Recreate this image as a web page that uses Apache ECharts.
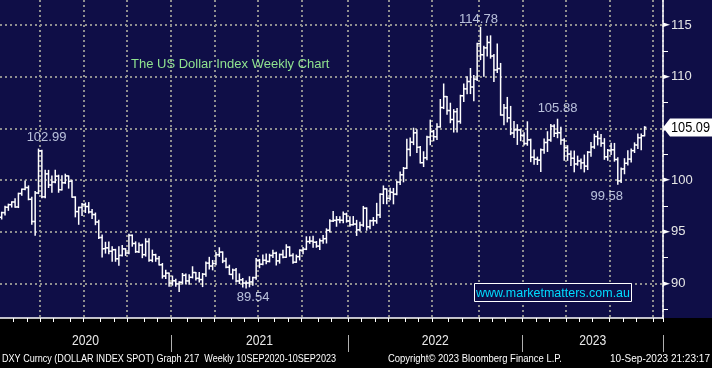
<!DOCTYPE html>
<html><head><meta charset="utf-8">
<script src="https://cdn.jsdelivr.net/npm/echarts@6/dist/echarts.min.js"></script>
<style>html,body{margin:0;padding:0;background:#000;}#c{width:712px;height:368px;}</style>
</head><body><div id="c"></div>
<script>
// ---- data (weekly DXY bars, week ending Friday) ----
const firstWeek = '2020-01-03';
const blankWeeksAfter = 5;
const opens = [
96.39,96.84,97.36,97.61,97.87,97.39,98.69,99.10,99.26,98.13,
95.98,98.74,102.82,98.37,100.59,99.52,99.80,100.37,99.06,99.73,
100.39,99.87,98.34,96.94,97.34,97.62,97.43,96.91,96.65,95.93,
94.43,93.35,93.43,93.10,93.25,92.37,92.70,93.33,92.93,94.64,
93.85,93.06,93.69,92.77,94.04,92.23,92.76,92.39,91.79,90.70,
90.98,90.02,
90.24,89.94,90.10,90.77,90.23,90.58,91.04,90.48,90.36,90.88,
91.95,91.67,91.92,92.77,93.02,92.16,91.56,90.86,91.28,90.22,
90.33,90.02,90.03,90.13,90.55,92.23,91.85,92.23,92.12,92.69,
92.91,92.17,92.78,92.52,93.50,92.69,92.04,92.58,93.20,93.30,
94.04,94.08,93.97,93.60,94.12,94.32,95.13,96.03,96.09,96.15,
96.10,96.70,96.03,
95.67,95.73,95.17,95.64,97.27,95.47,96.06,96.05,96.62,98.62,
99.13,98.23,98.80,98.63,99.79,100.50,101.13,102.96,103.66,104.56,
103.16,101.67,102.14,104.15,104.68,104.19,105.14,107.01,108.07,106.72,
105.85,106.61,105.67,108.15,108.82,109.53,109.00,109.76,113.19,112.12,
112.79,113.31,111.99,110.65,110.78,106.29,106.98,106.01,104.55,104.85,
104.84,104.32,
103.52,103.88,102.20,102.01,101.92,102.92,103.63,103.87,105.21,104.52,
104.58,103.86,103.12,102.51,102.10,101.55,101.84,101.66,101.34,102.69,
103.20,104.21,104.02,103.56,102.24,102.87,102.92,101.98,99.91,101.07,
101.62,102.02,102.84,103.39,104.09,104.28];
const highs = [
96.88,97.45,97.66,97.89,98.19,98.72,99.13,99.91,99.43,98.33,
98.89,102.99,102.87,100.93,100.93,100.38,100.93,100.46,100.40,100.56,
100.39,99.97,98.37,97.37,97.73,97.77,97.81,97.13,96.80,96.10,
94.67,93.97,93.99,93.53,93.29,93.53,93.66,93.35,94.74,94.68,
94.01,93.90,93.79,94.31,94.30,93.21,92.81,92.60,91.92,91.25,
91.00,90.70,
90.39,90.15,90.95,90.90,90.83,91.60,91.05,91.05,90.94,92.07,
92.51,92.21,92.97,93.44,93.04,92.42,91.75,91.37,91.43,90.91,
90.47,90.23,90.63,90.58,92.40,92.31,92.74,92.84,92.81,93.19,
93.00,92.83,93.20,93.73,93.53,92.87,92.73,93.24,93.46,94.50,
94.50,94.56,94.04,94.29,94.63,95.27,96.15,96.94,96.46,96.44,
96.91,96.79,96.44,
96.46,96.09,95.90,97.44,97.30,96.09,96.36,97.74,98.66,99.42,
99.13,99.20,99.18,99.87,100.78,101.21,103.93,104.07,105.01,104.86,
103.23,102.73,104.23,105.79,104.79,105.44,107.79,109.29,108.09,107.43,
106.81,106.93,108.20,109.28,109.99,110.79,110.11,113.24,114.78,112.95,
113.90,113.95,112.14,113.15,111.28,107.30,107.99,107.12,105.66,105.35,
104.86,104.56,
105.63,103.95,102.90,102.21,103.01,103.96,104.67,105.36,105.35,105.88,
105.10,103.99,103.32,102.80,102.80,102.31,102.04,102.41,102.75,103.62,
104.42,104.70,104.40,104.00,102.95,103.55,103.54,102.15,101.15,102.06,
102.84,102.99,103.59,104.44,104.44,105.16];
const lows = [
96.22,96.62,97.06,97.38,97.35,97.33,98.51,99.05,98.08,95.71,
94.65,98.68,98.27,98.27,99.27,98.82,99.74,98.81,99.03,99.67,
99.21,98.32,96.43,95.71,96.55,96.85,96.80,96.28,95.67,94.33,
92.55,92.92,92.85,92.13,92.13,91.75,92.65,92.70,92.85,93.59,
92.99,92.99,92.48,92.63,92.13,92.09,92.13,91.76,90.50,90.47,
89.72,89.82,
89.72,89.21,89.93,89.97,89.91,90.52,90.31,90.13,89.68,90.67,
91.38,91.30,91.79,92.60,92.00,91.50,90.86,90.42,90.13,89.98,
89.65,89.54,89.66,89.80,90.40,91.51,91.80,91.90,92.07,92.49,
91.78,91.95,92.47,92.51,92.62,91.94,92.02,92.26,92.86,93.26,
93.87,93.50,93.49,93.28,93.87,93.90,94.97,95.97,95.52,95.86,
95.85,95.92,95.53,
95.64,94.63,95.05,95.51,95.14,95.28,95.61,95.81,96.36,97.71,
97.70,98.08,97.69,98.56,99.57,99.82,101.11,102.35,103.42,102.67,
101.64,101.30,101.96,103.41,103.79,103.92,105.11,106.91,106.36,105.54,
104.64,104.64,105.49,107.59,108.34,108.36,107.68,109.64,111.65,110.05,
112.01,111.79,109.54,110.40,106.27,105.34,105.62,104.39,104.11,103.44,
103.80,103.39,
103.36,101.77,101.53,101.50,100.82,102.58,102.76,103.75,104.21,104.09,
103.46,101.92,101.90,101.41,100.79,101.43,101.08,100.78,101.01,102.29,
103.06,103.39,103.27,102.00,101.92,102.46,101.82,99.58,99.75,100.60,
101.45,101.74,102.66,103.05,102.93,104.27];
const closes = [
96.84,97.36,97.61,97.87,97.39,98.69,99.10,99.26,98.13,95.98,
98.74,102.82,98.37,100.59,99.52,99.80,100.37,99.06,99.73,100.39,
99.87,98.34,96.94,97.34,97.62,97.43,96.91,96.65,95.93,94.43,
93.35,93.43,93.10,93.25,92.37,92.70,93.33,92.93,94.64,93.85,
93.06,93.69,92.77,94.04,92.23,92.76,92.39,91.79,90.70,90.98,
90.02,90.24,
89.94,90.10,90.77,90.23,90.58,91.04,90.48,90.36,90.88,91.95,
91.67,91.92,92.77,93.02,92.16,91.56,90.86,91.28,90.22,90.33,
90.02,90.03,90.13,90.55,92.23,91.85,92.23,92.12,92.69,92.91,
92.17,92.78,92.52,93.50,92.69,92.04,92.58,93.20,93.30,94.04,
94.08,93.97,93.60,94.12,94.32,95.13,96.03,96.09,96.15,96.10,
96.70,96.03,95.67,
95.73,95.17,95.64,97.27,95.47,96.06,96.05,96.62,98.62,99.13,
98.23,98.80,98.63,99.79,100.50,101.13,102.96,103.66,104.56,103.16,
101.67,102.14,104.15,104.68,104.19,105.14,107.01,108.07,106.72,105.85,
106.61,105.67,108.15,108.82,109.53,109.00,109.76,113.19,112.12,112.79,
113.31,111.99,110.65,110.78,106.29,106.98,106.01,104.55,104.85,104.84,
104.32,103.52,
103.88,102.20,102.01,101.92,102.92,103.63,103.87,105.21,104.52,104.58,
103.86,103.12,102.51,102.10,101.55,101.84,101.66,101.34,102.69,103.20,
104.21,104.02,103.56,102.24,102.87,102.92,101.98,99.91,101.07,101.62,
102.02,102.84,103.39,104.09,104.28,105.09];
const yAxisMin = 86.64, yAxisMax = 117.42;
const yMajorTicks = [90, 95, 100, 105, 110, 115];
const yMinorTicks = [87.5, 92.5, 97.5, 102.5, 107.5, 112.5];
// annotated extremes: week index and which field
const annotWeeks = [11, 73, 143, 166, 184];
const annotField = ['high', 'low', 'high', 'high', 'low'];
const titleText = 'The US Dollar Index Weekly Chart';
const watermarkText = 'www.marketmatters.com.au';
const footerLeft = 'DXY Curncy (DOLLAR INDEX SPOT) Graph 217  Weekly 10SEP2020-10SEP2023';
const footerMid = 'Copyright\u00A9 2023 Bloomberg Finance L.P.';
const footerRight = '10-Sep-2023 21:23:17';

// ---- categories & calendar breaks ----
const DAY = 86400000;
const t0 = Date.parse(firstWeek + 'T00:00:00Z');
const nWeeks = closes.length + blankWeeksAfter;
const weeks = [];
for (let k = 0; k < nWeeks; k++) weeks.push(new Date(t0 + k * 7 * DAY).toISOString().slice(0, 10));
function plotDate(k) { return new Date(t0 + (k + 1) * 7 * DAY); }
function monthKey(k) { const d = plotDate(k); return d.getUTCFullYear() * 12 + d.getUTCMonth(); }
const isMonthBreak = k => k > 0 && monthKey(k) !== monthKey(k - 1);
const isQuarterBreak = k => k > 0 && Math.floor(monthKey(k) / 3) !== Math.floor(monthKey(k - 1) / 3);
const isYearBreak = k => k > 0 && Math.floor(monthKey(k) / 12) !== Math.floor(monthKey(k - 1) / 12);
const yb = [0];
for (let k = 1; k < nWeeks; k++) if (isYearBreak(k)) yb.push(k);
yb.push(nWeeks);
const yearMids = [];
for (let j = 0; j < yb.length - 1; j++) {
  yearMids.push({ idx: (yb[j] + yb[j + 1]) / 2, text: String(plotDate(yb[j]).getUTCFullYear()) });
}

const ohlc = closes.map((c, i) => [i, opens[i], highs[i], lows[i], c]);
const annotData = annotWeeks.map((w, j) => [w, annotField[j] === 'high' ? highs[w] : lows[w]]);
const annotOffsets = [[8, -12], [7, 9], [-2, -8], [0, -11], [-11, 12]];

const NAVY = '#0f0e47';
const GRID = '#8f8f8f';
const chart = echarts.init(document.getElementById('c'), null, { renderer: 'canvas' });

const option = {
  animation: false,
  backgroundColor: NAVY,
  title: {
    text: titleText, left: 131, top: 58, padding: 0,
    textStyle: { color: '#8fe38f', fontSize: 13, fontWeight: 'normal', fontFamily: 'Liberation Sans' }
  },
  grid: { left: 0, right: 49, top: 0, bottom: 50, containLabel: false },
  xAxis: [{
    type: 'category', data: weeks, boundaryGap: true,
    axisLine: { show: true, lineStyle: { color: '#ffffff', width: 1.5 } },
    axisTick: { show: true, interval: (i) => isMonthBreak(i), length: 4, lineStyle: { color: '#ffffff', width: 1 } },
    axisLabel: { show: false },
    splitLine: { show: true, interval: (i) => isQuarterBreak(i), lineStyle: { color: GRID, width: 2, type: [2, 3] } }
  }, {
    type: 'category', data: weeks, boundaryGap: true, position: 'bottom', offset: 34,
    axisLine: { show: false },
    axisTick: { show: true, inside: true, interval: (i) => isYearBreak(i), length: 17, lineStyle: { color: '#b0b0b0', width: 1 } },
    axisLabel: { show: false },
    splitLine: { show: false }
  }],
  yAxis: {
    type: 'value', position: 'right', min: yAxisMin, max: yAxisMax,
    axisLine: { show: true, lineStyle: { color: '#ffffff', width: 1.5 } },
    axisTick: { show: true, customValues: yMinorTicks, length: 5, lineStyle: { color: '#ffffff', width: 1 } },
    axisLabel: {
      show: true, customValues: yMajorTicks, margin: 0,
      formatter: v => '{t|\u25BA}{v|' + v + '}',
      rich: {
        t: { fontSize: 9, fontFamily: 'DejaVu Sans', color: '#ffffff', padding: [0, 1, 0, 0] },
        v: { fontSize: 13, fontFamily: 'Liberation Sans', color: '#e6e6e6' }
      }
    },
    splitLine: { show: false }
  },
  series: [{
    type: 'scatter', xAxisIndex: 0, yAxisIndex: 0, z: 2, silent: true,
    symbolSize: 0,
    data: annotData.map((d, j) => ({
      value: d,
      label: { show: true, position: 'inside', offset: annotOffsets[j], formatter: p => p.value[1].toFixed(2) }
    })),
    label: { color: '#e2ecff', fontSize: 13, fontFamily: 'Liberation Sans' },
    markLine: {
      silent: true, symbol: 'none', z: 1, animation: false,
      label: { show: false },
      lineStyle: { color: GRID, width: 2, type: [2, 3] },
      data: yMajorTicks.map(v => ({ yAxis: v }))
    }
  }, {
    type: 'custom', xAxisIndex: 0, yAxisIndex: 0, z: 10, silent: true,
    data: ohlc,
    encode: { x: 0, y: [1, 2, 3, 4] },
    renderItem: function (params, api) {
      const xi = api.value(0);
      const o = api.coord([xi, api.value(1)]);
      const h = api.coord([xi, api.value(2)]);
      const l = api.coord([xi, api.value(3)]);
      const c = api.coord([xi, api.value(4)]);
      const x = o[0];
      const half = api.size([1, 0])[0] * 0.55;
      const st = { stroke: '#ffffff', lineWidth: 1.5 };
      return {
        type: 'group', children: [
          { type: 'line', shape: { x1: x, y1: h[1] - 0.5, x2: x, y2: l[1] + 0.5 }, style: st },
          { type: 'line', shape: { x1: x - half, y1: o[1], x2: x, y2: o[1] }, style: st },
          { type: 'line', shape: { x1: x, y1: c[1], x2: x + half, y2: c[1] }, style: st }
        ]
      };
    }
  }]
};
chart.setOption(option);

// ---- condensed (horizontally scaled) text helper ----
const mctx = document.createElement('canvas').getContext('2d');
function fitText(text, font, x, y, targetW, fill, align) {
  mctx.font = font;
  const w = mctx.measureText(text).width;
  const s = Math.min(1, targetW / w);
  return {
    type: 'text', z: 21, silent: true, x: x, y: y, scaleX: s, scaleY: 1,
    style: { text: text, x: 0, y: 0, fill: fill, font: font,
      align: align, textAlign: align, verticalAlign: 'middle', textVerticalAlign: 'middle' }
  };
}

const lastClose = closes[closes.length - 1];
const py = chart.convertToPixel({ yAxisIndex: 0 }, lastClose);
const ax = 663;
const footFont = '11px "Liberation Sans"';
const yearFont = '14px "Liberation Sans"';
const bandW = chart.convertToPixel({ xAxisIndex: 0 }, 1) - chart.convertToPixel({ xAxisIndex: 0 }, 0);
const yearTexts = yearMids.map(m => {
  const xc = chart.convertToPixel({ xAxisIndex: 0 }, 0) + (m.idx - 0.5) * bandW;
  return fitText(m.text, yearFont, xc, 341, 27, '#e8e8e8', 'center');
});

chart.setOption({
  graphic: [
    { type: 'rect', z: -10, silent: true, shape: { x: 0, y: 318, width: 712, height: 50 }, style: { fill: '#000000' } },
    { type: 'polygon', z: 20, silent: true,
      shape: { points: [[ax, py], [ax + 7, py - 9], [712, py - 9], [712, py + 9], [ax + 7, py + 9]] },
      style: { fill: '#ffffff' } },
    fitText(lastClose.toFixed(2), '14px "Liberation Sans"', 671, py + 0.5, 39, '#000000', 'left'),
    { type: 'rect', z: 20, silent: true, shape: { x: 474.5, y: 283.5, width: 157, height: 18 },
      style: { fill: NAVY, stroke: '#ffffff', lineWidth: 1 } },
    fitText(watermarkText, '13px "Liberation Sans"', 553, 293, 154, '#00dcff', 'center'),
    fitText(footerLeft, footFont, 2, 359, 334, '#ffffff', 'left'),
    fitText(footerMid, footFont, 388, 359, 174, '#ffffff', 'left'),
    fitText(footerRight, footFont, 710, 359, 100, '#ffffff', 'right')
  ].concat(yearTexts)
});
</script></body></html>
